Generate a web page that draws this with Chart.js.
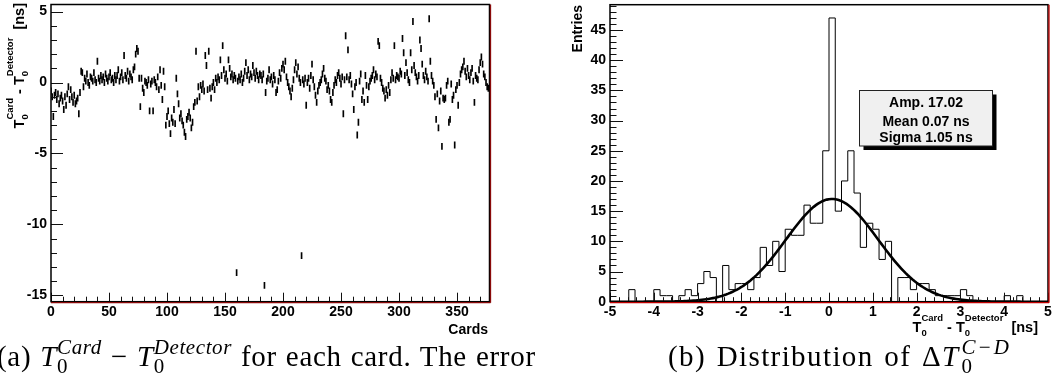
<!DOCTYPE html>
<html>
<head>
<meta charset="utf-8">
<script src="https://cdn.jsdelivr.net/npm/chart.js@4.4.0/dist/chart.umd.min.js"></script>
<style>
  html, body { margin: 0; padding: 0; background: #fff; }
  body { width: 1052px; height: 389px; position: relative; overflow: hidden; }
  canvas { position: absolute; top: 0; }
  #cardChart { left: 0; width: 500px; height: 340px; }
  #histChart { left: 500px; width: 552px; height: 340px; }
  .cap { position: absolute; top: 338px; white-space: nowrap; font-family: "Liberation Serif", "Times New Roman", serif; font-size: 29px; line-height: 31px; letter-spacing: 0.7px; word-spacing: 1px; color: #000; }
  .stk { display: inline-block; vertical-align: -7px; font-size: 21px; line-height: 19px; letter-spacing: 0.6px; }
  .stk span { display: block; }
  .stk .su { font-style: italic; }
  #capB { letter-spacing: 1.4px; word-spacing: 2px; }
  #capB .stk { letter-spacing: 2px; margin-left: 2px; }
</style>
</head>
<body>
<canvas id="cardChart" width="500" height="340"></canvas>
<canvas id="histChart" width="552" height="340"></canvas>
<div class="cap" style="left:-3px">(a) <i>T</i><span class="stk"><span class="su">Card</span><span>0</span></span> − <i>T</i><span class="stk"><span class="su">Detector</span><span>0</span></span> for each card. The error</div>
<div class="cap" id="capB" style="left:668px">(b) Distribution of Δ<i>T</i><span class="stk"><span class="su">C−D</span><span>0</span></span></div>
<script>
// T0(card) - T0(detector) per card [ns], card index = position in array
const cardOffsets = [
  -0.6, -1.0, -2.4, -0.9, -0.7, -1.2, -0.8, -1.5, -1.1, -0.9, -1.3, -1.9, -1.0, -1.6, -0.8, -0.3, -1.2, -0.5, -1.0, -1.4, -0.9, -1.5, -1.3, -1.1, -2.2, -0.7,
  0.8, 0.7, -0.3, 0.3, 0.1, 0.6, 0.0, -0.2, 0.4, 0.3, 0.1, 0.7, 0.2, 0.0, 1.5, 0.3, 0.1, 0.5, 0.2, 0.4, 0.0, 0.6, 0.3, 0.1, 0.4, 0.7, 0.2, 0.3, 0.0, 0.5, 0.2,
  0.5, 0.9, 0.1, 0.4, 0.7, 0.2, 1.9, 0.5, 0.3, 0.8, 0.1, 0.6, 0.4, 0.2, 0.9, 1.1, 2.0, 2.4, 2.2, 0.3, -1.7,
  0.3, -0.4, -0.7, 0.1, 0.0, -0.2, 0.2, -2.0, -0.1, 0.1, -2.0, 0.2, 0.0, -0.3, 0.4, -0.5, 0.9, -0.2, -1.2, 0.8,
  -0.3, -3.0, -2.4, -2.0, -2.9, -3.6, -2.5, -2.8, -1.9, -2.9, 0.3, -0.8, -1.5, -2.5, -2.2, -2.7, -3.0, -3.5, -3.8, -2.6, -2.4, -2.1, -2.5, -3.2, -2.8,
  -1.7, -1.4, 2.2, -1.3, -0.3, -1.0, -0.2, -0.5, -0.1, -0.6, 1.9, 1.2, -0.5, 2.2, -0.4, -1.1, -0.3, 0.0,
  -0.5, 0.3, 0.0, 0.4, 0.2, 1.6, 0.5, 2.6, 0.9, 0.3, 0.6, 0.1, 1.6, 1.0, 0.4, 0.6, 0.2, 0.5, 0.3, -13.4,
  0.1, 0.4, 0.2, 0.6, 0.0, 0.3, 0.8, 1.4, 0.5, 0.9, 0.2, 0.6, 0.4, 1.2, 0.7, 0.3, 0.8, 0.5, 0.2, 0.6,
  0.5, 0.2, 0.6, -14.3, -0.7, 0.1, 0.3, 0.9, 0.2, 0.4, -0.1, 0.5, 0.2, -0.7, -0.5, 0.1, 0.7, 0.3, 1.0, 1.3,
  0.9, 1.5, 0.4, 0.0, -0.3, -0.6, -1.0, -0.4, 0.2, 0.9, 1.4, 0.6, 1.1, 0.3, 0.0, -12.2, 0.2, -0.1, 0.3, -1.6,
  0.0, 0.3, -0.4, 0.5, 1.3, 0.2, -0.3, -0.9, -1.4, -0.6, -0.2, 0.0, 0.2, 0.6, 1.0, 0.3, 0.1, -0.5, -0.2, -0.6,
  -1.2, -1.4, -0.7, -0.2, 0.2, 0.0, 0.5, 0.7, 0.3, -0.1, 0.4, -2.2,
  0.2, 3.3, 0.4, 2.3, 0.2, 0.5, -0.1, -0.8, -1.9, -0.3, 0.0, -3.7, -2.8, 0.1, 0.6, -1.2, -0.6, -1.4, 0.5, -0.2,
  -1.2, -0.3, 0.1, 0.3, 0.5, 0.9, 0.2, 0.6, 0.4, 2.9, 2.6, 0.3, 0.0, -0.4, -0.6, -1.1, -0.5, -0.9,
  -0.2, -0.7, 0.2, 0.7, 0.3, 2.6, 0.2, 0.5, 0.4, 0.3, 0.8, 0.6, 3.1, 2.1, 0.5, 1.4, 0.7, 0.2, 0.0, 2.1,
  0.9, 4.3, 1.2, 0.7, 0.4, 0.1, 0.5, 3.0, 2.4, 1.3, 0.5, 0.2, 0.8, 0.4, 0.1,
  4.5, 1.5, 0.5, 0.1, -0.2, -1.0, -2.6, -0.8, -3.2, -1.3, -0.6, -4.5, -1.1, -1.2, -1.1, -0.2, 0.1, -2.8, -2.6, -0.1,
  -1.2, -0.9, -4.4, -0.5, -0.2, -1.6, 0.0,
  0.6, 0.9, 1.1, 1.5, 0.8, 0.4, 1.0, 0.5, 0.2, 0.7, 1.0, 0.1, -1.4, 0.5, 0.3, 0.2, 0.9, 1.4, 1.8, 1.3, 0.6, 0.4, 0.0, -0.3, -0.4
];
const cardError = 0.22;
const cardXTicks = [0, 50, 100, 150, 200, 250, 300, 350];
const cardYTicks = [-15, -10, -5, 0, 5];

// 70 bins between -5 and 5 ns
const histCounts = [
  0, 0, 0, 2, 0, 0, 0, 2, 1, 1, 0, 1, 2, 1, 3, 5, 4, 0, 6, 2,
  3, 3, 2, 4, 9, 6, 10, 5, 12, 11, 11, 16, 13, 13, 25, 47, 15, 20, 25, 18,
  9, 13, 12, 7, 10, 0, 4, 4, 2, 3, 3, 2, 1, 1, 1, 1, 2, 1, 0, 0,
  0, 0, 0, 1, 0, 1, 0, 0, 0, 0
];
const histMin = -5;
const histMax = 5;
const histXTicks = [-5, -4, -3, -2, -1, 0, 1, 2, 3, 4, 5];
const histYTicks = [0, 5, 10, 15, 20, 25, 30, 35, 40, 45];

const fitAmp = 17.02;
const fitMean = 0.07;
const fitSigma = 1.05;
const statsLines = ['Amp. 17.02', 'Mean 0.07 ns', 'Sigma 1.05 ns'];

const SANS = '"Liberation Sans", Arial, Helvetica, sans-serif';

// text with stacked sub/superscript pieces, right aligned at (x, y)
function drawRich(ctx, parts, x, y, rot, big, small) {
    const bigF = `bold ${big}px ${SANS}`;
    const smallF = `bold ${small}px ${SANS}`;
    ctx.save();
    ctx.translate(x, y);
    ctx.rotate(rot);
    const widths = parts.map(p => {
        if (typeof p === 'string') {
            ctx.font = bigF;
            return ctx.measureText(p).width;
        }
        ctx.font = smallF;
        return Math.max(ctx.measureText(p[0]).width, ctx.measureText(p[1]).width);
    });
    let cx = -widths.reduce((a, b) => a + b, 0);
    ctx.fillStyle = '#000';
    ctx.textAlign = 'left';
    ctx.textBaseline = 'alphabetic';
    parts.forEach((p, i) => {
        if (typeof p === 'string') {
            ctx.font = bigF;
            ctx.fillText(p, cx, 0);
        } else {
            ctx.font = smallF;
            ctx.fillText(p[0], cx, -11);
            ctx.fillText(p[1], cx, 4.5);
        }
        cx += widths[i];
    });
    ctx.restore();
}

const t0Title = ['T', ['Card', '0'], ' - ', 'T', ['Detector', '0'], '  [ns]'];

// ROOT-like frame with inward ticks
const rootFrame = {
    id: 'rootFrame',
    afterDatasetsDraw(chart, args, o) {
        const {ctx, chartArea: a, scales: {x, y}} = chart;
        ctx.save();
        ctx.strokeStyle = '#111';
        ctx.lineWidth = 1;
        const line = (x1, y1, x2, y2) => {
            ctx.beginPath();
            ctx.moveTo(x1, y1);
            ctx.lineTo(x2, y2);
            ctx.stroke();
        };
        for (let i = 0; ; i++) {
            const v = x.min + i * o.xMinor;
            if (v > x.max + 1e-9) break;
            const px = Math.round(x.getPixelForValue(v)) + 0.5;
            line(px, a.bottom, px, a.bottom - o.xMinorLen);
        }
        x.ticks.forEach(t => {
            const px = Math.round(x.getPixelForValue(t.value)) + 0.5;
            line(px, a.bottom, px, a.bottom - o.xMajorLen);
        });
        const y0 = Math.ceil(y.min);
        for (let v = y0; v <= y.max; v++) {
            const py = Math.round(y.getPixelForValue(v)) + 0.5;
            line(a.left, py, a.left + o.yMinorLen, py);
        }
        y.ticks.forEach(t => {
            const py = Math.round(y.getPixelForValue(t.value)) + 0.5;
            line(a.left, py, a.left + o.yMajorLen, py);
        });
        // frame
        ctx.lineWidth = 1.5;
        ctx.strokeStyle = '#000';
        ctx.strokeRect(a.left, a.top, a.right - a.left, a.bottom - a.top);
        ctx.strokeStyle = o.edge;
        ctx.lineWidth = 1.3;
        line(a.right + 1, a.top, a.right + 1, a.bottom + 1);
        line(a.left, a.bottom + 1, a.right + 1, a.bottom + 1);
        ctx.restore();
    }
};

const tickFont = {family: SANS, size: 14, weight: 'bold'};

function fixedScale(size, tickList, vertical) {
    return {
        afterFit: s => {
            if (vertical) s.width = size; else s.height = size;
            s.paddingTop = 0; s.paddingBottom = 0; s.paddingLeft = 0; s.paddingRight = 0;
        },
        afterBuildTicks: s => { s.ticks = tickList.map(v => ({value: v})); }
    };
}

// ---- left: per-card offsets ----
const cardTitles = {
    id: 'cardTitles',
    afterDraw(chart) {
        const ctx = chart.ctx;
        drawRich(ctx, t0Title, 23.5, 3, -Math.PI / 2, 14.5, 9.5);
        drawRich(ctx, ['Cards'], 488, 333.5, 0, 14, 9);
    }
};

new Chart(document.getElementById('cardChart'), {
    type: 'bar',
    data: {
        datasets: [{
            data: cardOffsets.map((v, i) => ({x: i, y: [v - cardError, v + cardError]})),
            backgroundColor: '#000',
            borderWidth: 0,
            borderSkipped: false,
            barThickness: 1
        }]
    },
    options: {
        responsive: false,
        animation: false,
        devicePixelRatio: 1,
        events: [],
        layout: {padding: {left: 0, top: 4.5, right: 10.5, bottom: 0}},
        plugins: {
            legend: {display: false},
            tooltip: {enabled: false},
            rootFrame: {xMinor: 10, xMinorLen: 5, xMajorLen: 9, yMinorLen: 6, yMajorLen: 12, edge: '#8a0a0a'}
        },
        scales: {
            x: {
                type: 'linear', min: 0, max: 378, offset: false,
                grid: {display: false, drawTicks: false, offset: false},
                border: {display: false},
                ticks: {font: tickFont, color: '#000', padding: 2, maxRotation: 0},
                ...fixedScale(38.3, cardXTicks, false)
            },
            y: {
                type: 'linear', min: -15.45, max: 5.5,
                grid: {display: false, drawTicks: false},
                border: {display: false},
                ticks: {font: tickFont, color: '#000', padding: 4},
                ...fixedScale(51, cardYTicks, true)
            }
        }
    },
    plugins: [rootFrame, cardTitles]
});

// ---- right: distribution with gaussian fit ----
const binWidth = (histMax - histMin) / histCounts.length;
const histPoints = histCounts.map((c, k) => ({x: histMin + k * binWidth, y: c}));
histPoints.push({x: histMax, y: histCounts[histCounts.length - 1]});

const fitPoints = [];
for (let i = 0; i <= 200; i++) {
    const x = histMin + i * (histMax - histMin) / 200;
    fitPoints.push({x, y: fitAmp * Math.exp(-0.5 * ((x - fitMean) / fitSigma) ** 2)});
}

const histDecor = {
    id: 'histDecor',
    afterDatasetsDraw(chart) {
        const ctx = chart.ctx;
        const L = 359.5, T = 90.5, W = 133, H = 55.5;
        ctx.save();
        ctx.fillStyle = '#000';
        ctx.fillRect(L + 4, T + 4, W, H);
        ctx.fillStyle = '#f0f0f0';
        ctx.fillRect(L, T, W, H);
        ctx.strokeStyle = '#222';
        ctx.lineWidth = 1;
        ctx.strokeRect(L, T, W, H);
        ctx.font = `bold 14px ${SANS}`;
        ctx.textAlign = 'center';
        ctx.textBaseline = 'alphabetic';
        ctx.fillStyle = '#000';
        [106.5, 125.8, 141.6].forEach((yy, i) => ctx.fillText(statsLines[i], L + W / 2, yy));
        ctx.restore();
    },
    afterDraw(chart) {
        const ctx = chart.ctx;
        drawRich(ctx, ['Entries'], 81.5, 5, -Math.PI / 2, 14, 9);
        drawRich(ctx, t0Title, 538, 331.5, 0, 14.5, 9.5);
    }
};

new Chart(document.getElementById('histChart'), {
    type: 'line',
    data: {
        datasets: [
            {data: histPoints, borderColor: '#000', borderWidth: 1, stepped: 'before', pointRadius: 0, fill: false},
            {data: fitPoints, borderColor: '#000', borderWidth: 2.6, pointRadius: 0, tension: 0, fill: false}
        ]
    },
    options: {
        responsive: false,
        animation: false,
        devicePixelRatio: 1,
        events: [],
        layout: {padding: {left: 0, top: 4.7, right: 4, bottom: 0}},
        plugins: {
            legend: {display: false},
            tooltip: {enabled: false},
            rootFrame: {xMinor: 0.2, xMinorLen: 4.5, xMajorLen: 9, yMinorLen: 6.5, yMajorLen: 13, edge: '#c00000'}
        },
        scales: {
            x: {
                type: 'linear', min: histMin, max: histMax,
                grid: {display: false, drawTicks: false},
                border: {display: false},
                ticks: {font: tickFont, color: '#000', padding: 2, maxRotation: 0},
                ...fixedScale(38.3, histXTicks, false)
            },
            y: {
                type: 'linear', min: 0, max: 49.2,
                grid: {display: false, drawTicks: false},
                border: {display: false},
                ticks: {font: tickFont, color: '#000', padding: 4},
                ...fixedScale(110, histYTicks, true)
            }
        }
    },
    plugins: [rootFrame, histDecor]
});
</script>
</body>
</html>
